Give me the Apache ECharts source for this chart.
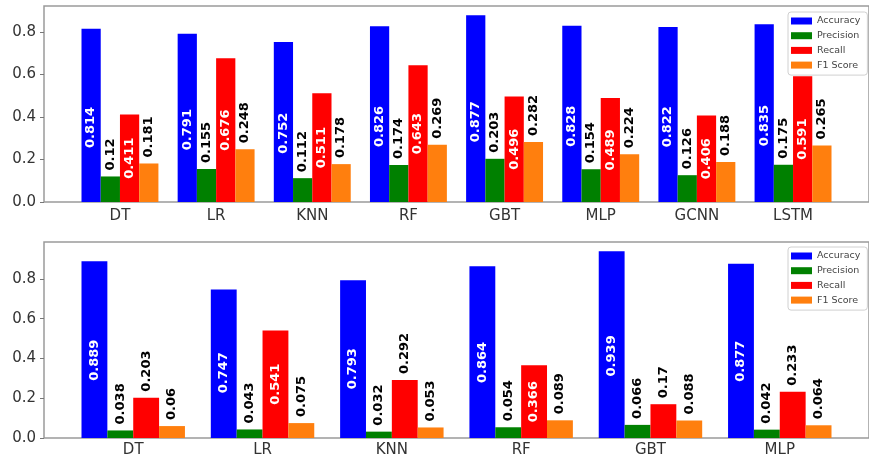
<!DOCTYPE html>
<html>
<head>
<meta charset="utf-8">
<script src="https://cdn.jsdelivr.net/npm/echarts@6/dist/echarts.min.js"></script>
<style>
  html, body { margin: 0; padding: 0; background: #fff; }
  #chart { width: 869px; height: 461px; }
</style>
</head>
<body>
<div id="chart"></div>
<script>
// Upper panel: eight models
const topCategories = ['DT', 'LR', 'KNN', 'RF', 'GBT', 'MLP', 'GCNN', 'LSTM'];
const topAccuracy  = [0.814, 0.791, 0.752, 0.826, 0.877, 0.828, 0.822, 0.835];
const topPrecision = [0.12, 0.155, 0.112, 0.174, 0.203, 0.154, 0.126, 0.175];
const topRecall    = [0.411, 0.676, 0.511, 0.643, 0.496, 0.489, 0.406, 0.591];
const topF1        = [0.181, 0.248, 0.178, 0.269, 0.282, 0.224, 0.188, 0.265];

// Lower panel: six models
const bottomCategories = ['DT', 'LR', 'KNN', 'RF', 'GBT', 'MLP'];
const bottomAccuracy  = [0.889, 0.747, 0.793, 0.864, 0.939, 0.877];
const bottomPrecision = [0.038, 0.043, 0.032, 0.054, 0.066, 0.042];
const bottomRecall    = [0.203, 0.541, 0.292, 0.366, 0.17, 0.233];
const bottomF1        = [0.06, 0.075, 0.053, 0.089, 0.088, 0.064];

const yTicks = [0, 0.2, 0.4, 0.6, 0.8];
const metricNames = ['Accuracy', 'Precision', 'Recall', 'F1 Score'];
const metricColors = ['#0000ff', '#008000', '#ff0000', '#ff7f0e'];

const FONT = 'DejaVu Sans';

// label drawn inside the bar (white) or just above it (black), reading upward
function insideLabel(posY) {
  return {
    show: true, position: ['50%', posY], rotate: 90,
    align: 'center', verticalAlign: 'middle',
    color: '#fff', fontFamily: FONT, fontWeight: 'bold', fontSize: 13
  };
}
function topLabel() {
  return {
    show: true, position: 'top', distance: 6, rotate: 90,
    align: 'left', verticalAlign: 'middle',
    color: '#000', fontFamily: FONT, fontWeight: 'bold', fontSize: 13
  };
}

function makeSeries(gridIdx, name, color, values, mode, accPos) {
  return {
    type: 'bar', name: name,
    xAxisIndex: gridIdx, yAxisIndex: gridIdx,
    barWidth: '20%', barGap: '0%',
    itemStyle: { color: color },
    emphasis: { disabled: true },
    animation: false,
    data: values.map((v, i) => {
      let label;
      if (mode === 'acc') label = insideLabel(accPos);
      else if (mode === 'top') label = topLabel();
      else label = v >= 0.3 ? insideLabel('50%') : topLabel();
      return {
        value: [i, v],
        label: Object.assign(label, { formatter: () => String(v) })
      };
    })
  };
}

const grids = [
  { left: 44, top: 6, width: 829, height: 196 },
  { left: 44, top: 242, width: 829, height: 196 }
];
const cats = [topCategories, bottomCategories];
// x range: bar groups span ±0.4 around each model, plus a 5% margin
const xPad = [0.79, 0.69];
const yMax = [0.921, 0.986];

const option = {
  animation: false,
  grid: grids.map(g => Object.assign({
    show: true, borderColor: '#9a9a9a', borderWidth: 1.5, backgroundColor: '#fff'
  }, g)),
  xAxis: cats.map((c, gi) => ({
    type: 'value', gridIndex: gi,
    min: -xPad[gi], max: c.length - 1 + xPad[gi],
    splitNumber: c.length,
    axisLine: { show: false, onZero: false }, axisTick: { show: false }, splitLine: { show: false },
    axisLabel: {
      customValues: c.map((_, i) => i),
      formatter: v => c[Math.round(v)] || '',
      margin: gi === 0 ? 7 : 5,
      fontFamily: FONT, fontSize: 15, color: '#333'
    }
  })),
  yAxis: yMax.map((m, gi) => ({
    type: 'value', gridIndex: gi, min: 0, max: m,
    axisLine: { show: false, onZero: false }, splitLine: { show: false },
    axisTick: { show: true, length: 4, customValues: yTicks, lineStyle: { color: '#777' } },
    axisLabel: {
      customValues: yTicks, formatter: v => v.toFixed(1),
      margin: 8, fontFamily: FONT, fontSize: 15, color: '#333'
    }
  })),
  legend: [12, 247].map(t => ({
    orient: 'vertical', left: 788, top: t,
    data: metricNames,
    icon: 'rect', itemWidth: 21, itemHeight: 7, itemGap: 4.7,
    padding: [4, 7, 5, 3],
    backgroundColor: 'rgba(255,255,255,0.85)',
    borderColor: '#d0d0d0', borderWidth: 1, borderRadius: 3,
    selectedMode: false,
    textStyle: { fontFamily: FONT, fontSize: 9.5, color: '#444', lineHeight: 10 }
  })),
  series: [
    makeSeries(0, metricNames[0], metricColors[0], topAccuracy, 'acc', '57%'),
    makeSeries(0, metricNames[1], metricColors[1], topPrecision, 'top'),
    makeSeries(0, metricNames[2], metricColors[2], topRecall, 'auto'),
    makeSeries(0, metricNames[3], metricColors[3], topF1, 'top'),
    makeSeries(1, metricNames[0], metricColors[0], bottomAccuracy, 'acc', '56%'),
    makeSeries(1, metricNames[1], metricColors[1], bottomPrecision, 'top'),
    makeSeries(1, metricNames[2], metricColors[2], bottomRecall, 'auto'),
    makeSeries(1, metricNames[3], metricColors[3], bottomF1, 'top')
  ]
};

echarts.init(document.getElementById('chart'), null, { renderer: 'canvas' }).setOption(option);
</script>
</body>
</html>
